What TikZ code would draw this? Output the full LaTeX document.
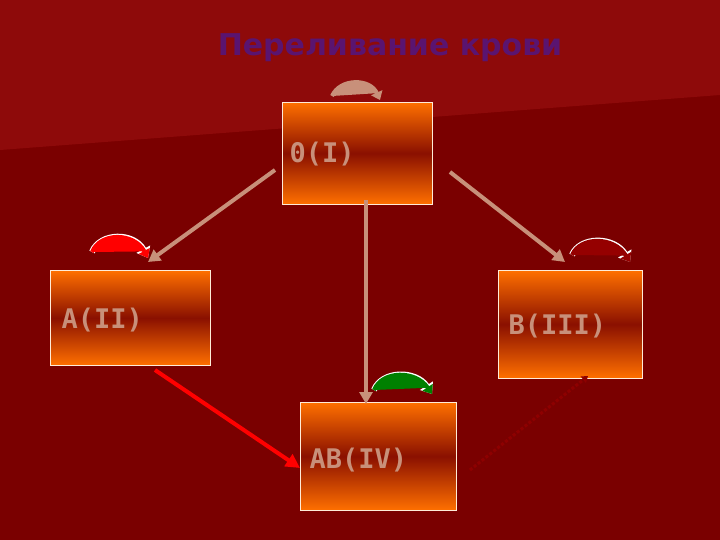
\documentclass[tikz,border=0pt]{standalone}
\usepackage{fontspec}
\setmainfont{DejaVu Sans}
\newfontfamily\lblfont{DejaVu Sans Mono}
\usetikzlibrary{arrows.meta}
\definecolor{bg}{HTML}{7A0000}
\definecolor{bgl}{HTML}{8E0A0A}
\definecolor{tan}{HTML}{C8907A}
\definecolor{org}{HTML}{FF7000}
\definecolor{mid}{HTML}{8A1000}
\definecolor{ttl}{HTML}{5A1470}
\tikzset{
 box/.style={draw=white!85!orange, line width=0.6pt, top color=org, bottom color=org, middle color=mid, anchor=north west, inner sep=0pt},
 lbl/.style={font=\lblfont\bfseries\fontsize{27}{27}\selectfont, text=tan},
 conn/.style={line width=4pt, draw=tan, -{Triangle[length=12pt,width=13pt]}},
 curl/.style={line width=4pt, -{Triangle[length=8pt,width=12pt]}},
}
\begin{document}
\begin{tikzpicture}[x=1pt,y=-1pt]
\useasboundingbox (0,0) rectangle (720,540);
\fill[bg] (0,0) rectangle (720,540);
\fill[bgl] (0,0) -- (720,0) -- (720,95) -- (0,150) -- cycle;
\node[font=\bfseries\fontsize{30}{30}\selectfont, text=ttl] (title) at (390,48) {Переливание крови};
\node[box, minimum width=150pt, minimum height=102pt] (o) at (282,102) {};
\node[box, minimum width=160pt, minimum height=95pt] (a) at (50,270) {};
\node[box, minimum width=144pt, minimum height=108pt] (b) at (498,270) {};
\node[box, minimum width=156pt, minimum height=108pt] (ab) at (300,402) {};
\node[lbl, anchor=west] (ot) at (286,154) {0(I)};
\node[lbl, anchor=west] (at) at (58,320) {A(II)};
\node[lbl, anchor=west] (bt) at (505,326) {B(III)};
\node[lbl, anchor=west] (abt) at (306,460) {AB(IV)};
\coordinate (o1) at (275,170); \coordinate (a1) at (148,262);
\coordinate (o2) at (366,200); \coordinate (ab1) at (366,404);
\coordinate (o3) at (450,172); \coordinate (b1) at (565,262);
\coordinate (a2) at (155,370); \coordinate (ab2) at (300,468);
\coordinate (ab3) at (470,470); \coordinate (b2) at (588,376);
\draw[conn] (o1) -- (a1);
\draw[conn] (o2) -- (ab1);
\draw[conn] (o3) -- (b1);
\draw[line width=4pt, draw=red, -{Triangle[length=14pt,width=14pt]}] (a2) -- (ab2);
\draw[line width=3pt, draw=bg!85!red, dotted, -{Triangle[length=6pt,width=8pt]}] (ab3) -- (b2);
% curls
\coordinate (c1s) at (332,96); \coordinate (c1e) at (380,100);
\draw[curl, draw=tan, fill=tan] (c1s) .. controls (340,78) and (370,78) .. (c1e);
\coordinate (c2s) at (92,252); \coordinate (c2e) at (148,258);
\draw[line width=6pt, white, -{Triangle[length=10pt,width=15pt]}] (c2s) .. controls (100,232) and (134,232) .. (c2e);
\draw[curl, draw=red, fill=red] (c2s) .. controls (100,232) and (134,232) .. (c2e);
\coordinate (c3s) at (572,255); \coordinate (c3e) at (630,262);
\draw[line width=6pt, white, -{Triangle[length=10pt,width=15pt]}] (c3s) .. controls (580,236) and (614,236) .. (c3e);
\draw[curl, draw=bg!80!red, fill=bg!80!red] (c3s) .. controls (580,236) and (614,236) .. (c3e);
\coordinate (c4s) at (374,390); \coordinate (c4e) at (432,394);
\draw[line width=6pt, white, -{Triangle[length=10pt,width=15pt]}] (c4s) .. controls (382,370) and (416,370) .. (c4e);
\draw[curl, draw=green!50!black, fill=green!50!black] (c4s) .. controls (382,370) and (416,370) .. (c4e);
\end{tikzpicture}
\end{document}
